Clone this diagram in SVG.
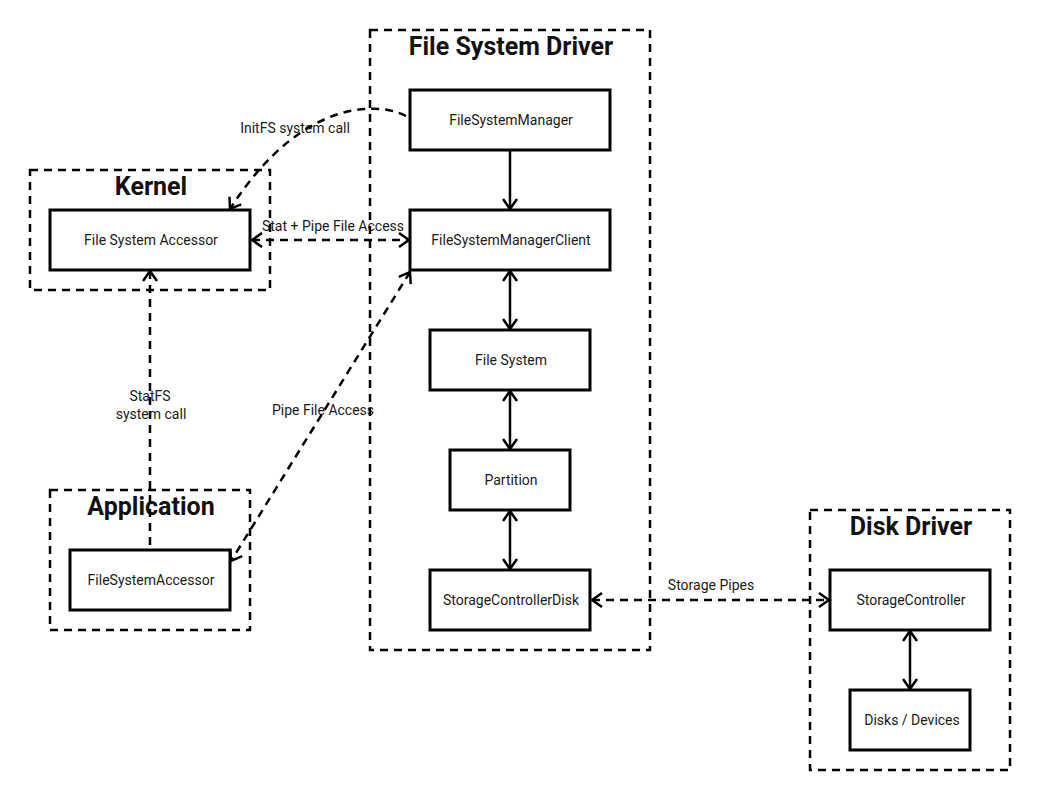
<svg xmlns="http://www.w3.org/2000/svg" width="1040" height="800" viewBox="0 0 1040 800">
<style>
.bg{fill:#ffffff}
.grp{fill:none;stroke:#000;stroke-width:2.5;stroke-dasharray:8 6}
.box{fill:#fff;stroke:#000;stroke-width:3}
.t{font-family:Roboto,"Liberation Sans",sans-serif;font-size:14px;fill:#1a1a1a;text-anchor:middle}
.h{font-family:Roboto,"Liberation Sans",sans-serif;font-size:25px;font-weight:bold;fill:#111;text-anchor:middle}
.s{fill:none;stroke:#000;stroke-width:2.5}
.d{fill:none;stroke:#000;stroke-width:2.5;stroke-dasharray:8 6}
</style>
<defs>
<marker id="ah" viewBox="0 0 12 16" refX="11" refY="8" markerWidth="12" markerHeight="16" markerUnits="userSpaceOnUse" orient="auto-start-reverse">
<path d="M1,1 L11,8 L1,15" fill="none" stroke="#000" stroke-width="2.5"/>
</marker>
</defs>
<rect class="bg" x="0" y="0" width="1040" height="800"/>

<g id="fs-driver">
<rect class="grp" x="370" y="30" width="280" height="620"/>
<text class="h" x="511" y="55">File System Driver</text>
</g>
<g id="kernel">
<rect class="grp" x="30" y="170" width="240" height="120"/>
<text class="h" x="151" y="195">Kernel</text>
</g>
<g id="application">
<rect class="grp" x="50" y="490" width="200" height="140"/>
<text class="h" x="151" y="515">Application</text>
</g>
<g id="disk-driver">
<rect class="grp" x="810" y="510" width="200" height="260"/>
<text class="h" x="911" y="535">Disk Driver</text>
</g>

<g id="connectors">
<path class="s" d="M510,150 L510,209" marker-end="url(#ah)"/>
<path class="s" d="M510,271 L510,329" marker-start="url(#ah)" marker-end="url(#ah)"/>
<path class="s" d="M510,391 L510,449" marker-start="url(#ah)" marker-end="url(#ah)"/>
<path class="s" d="M510,511 L510,569" marker-start="url(#ah)" marker-end="url(#ah)"/>
<path class="s" d="M910,631 L910,689" marker-start="url(#ah)" marker-end="url(#ah)"/>
<path class="d" d="M592,600 L829,600" marker-start="url(#ah)" marker-end="url(#ah)"/>
<path class="d" d="M252,240 L409,240" marker-start="url(#ah)" marker-end="url(#ah)"/>
<path class="d" d="M406,116 C385,104 305,92 230,209" marker-end="url(#ah)"/>
<path class="d" d="M150,545 L150,271" marker-end="url(#ah)"/>
<path class="d" d="M410,272 L231,561" marker-start="url(#ah)" marker-end="url(#ah)"/>
<text class="t" x="711" y="590">Storage Pipes</text>
<text class="t" x="333" y="231">Stat + Pipe File Access</text>
<text class="t" x="295" y="133">InitFS system call</text>
<text class="t" x="150" y="401">StatFS</text>
<text class="t" x="151" y="419">system call</text>
<text class="t" x="323" y="415">Pipe File Access</text>
</g>

<g id="fsm"><rect class="box" x="410" y="90" width="200" height="60"/><text class="t" x="511" y="125">FileSystemManager</text></g>
<g id="fsmc"><rect class="box" x="410" y="210" width="200" height="60"/><text class="t" x="511" y="245">FileSystemManagerClient</text></g>
<g id="fs"><rect class="box" x="430" y="330" width="160" height="60"/><text class="t" x="511" y="365">File System</text></g>
<g id="partition"><rect class="box" x="450" y="450" width="120" height="60"/><text class="t" x="511" y="485">Partition</text></g>
<g id="scd"><rect class="box" x="430" y="570" width="160" height="60"/><text class="t" x="511" y="605">StorageControllerDisk</text></g>
<g id="ksa"><rect class="box" x="50" y="210" width="200" height="60"/><text class="t" x="151" y="245">File System Accessor</text></g>
<g id="afsa"><rect class="box" x="70" y="550" width="160" height="60"/><text class="t" x="151" y="585">FileSystemAccessor</text></g>
<g id="sc"><rect class="box" x="830" y="570" width="160" height="60"/><text class="t" x="911" y="605">StorageController</text></g>
<g id="disks"><rect class="box" x="850" y="690" width="120" height="60"/><text class="t" x="912" y="725">Disks / Devices</text></g>
</svg>
